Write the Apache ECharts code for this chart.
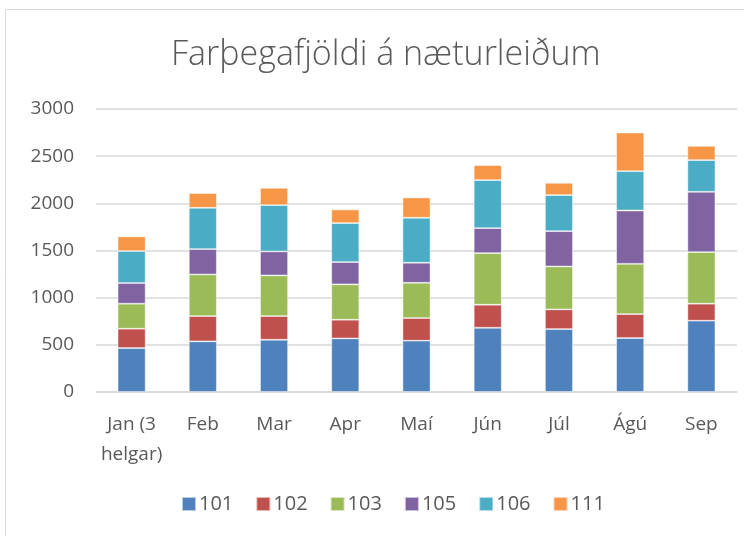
<!DOCTYPE html>
<html><head><meta charset="utf-8">
<script src="https://cdn.jsdelivr.net/npm/echarts@6/dist/echarts.min.js"></script>
<style>html,body{margin:0;padding:0;background:#fff}#c{width:744px;height:536px}</style>
</head><body><div id="c"></div>
<script>
var categories = ['Jan (3\nhelgar)', 'Feb', 'Mar', 'Apr', 'Maí', 'Jún', 'Júl', 'Ágú', 'Sep'];
var s101 = [466, 537, 554, 568, 544, 681, 667, 572, 756];
var s102 = [205, 268, 251, 198, 240, 244, 209, 254, 180];
var s103 = [265, 441, 431, 375, 374, 547, 455, 533, 547];
var s105 = [219, 269, 254, 236, 212, 265, 374, 565, 639];
var s106 = [339, 438, 491, 413, 477, 509, 382, 417, 336];
var s111 = [155, 155, 183, 145, 215, 159, 130, 410, 151];
var seriesNames = ['101', '102', '103', '105', '106', '111'];
var colors = ['#4F81BD', '#C0504D', '#9BBB59', '#8064A2', '#4BACC6', '#F79646'];
var data = [s101, s102, s103, s105, s106, s111];

var font = 'Open Sans';
var chart = echarts.init(document.getElementById('c'));
chart.setOption({
  animation: false,
  graphic: [{type: 'rect', shape: {x: 5.5, y: 9.5, width: 760, height: 560}, style: {fill: 'none', stroke: '#d9d9d9', lineWidth: 1}}],
  title: {text: 'Farþegafjöldi á næturleiðum', left: 166, top: 33,
    textStyle: {fontFamily: font, fontWeight: 300, fontSize: 34, color: '#595959'}},
  legend: {bottom: 17, left: 176, itemWidth: 14, itemHeight: 14, itemGap: 22,
    icon: 'rect', data: seriesNames,
    textStyle: {fontFamily: font, fontSize: 20, color: '#595959', padding: [0, 0, 0, -2]}},
  grid: {left: 96, right: 7, top: 109, bottom: 144, containLabel: false},
  xAxis: {type: 'category', data: categories,
    axisLine: {lineStyle: {color: '#d9d9d9', width: 1.5}}, axisTick: {show: false},
    axisLabel: {fontFamily: font, fontSize: 19, color: '#595959', margin: 18, lineHeight: 30, interval: 0}},
  yAxis: {type: 'value', min: 0, max: 3000, interval: 500,
    axisLine: {show: false}, axisTick: {show: false},
    splitLine: {lineStyle: {color: '#d9d9d9', width: 1.5}},
    axisLabel: {fontFamily: font, fontSize: 19, color: '#595959', margin: 22,
      formatter: function (v) { return String(v); }}},
  series: seriesNames.map(function (n, i) {
    return {name: n, type: 'bar', stack: 'a', barWidth: 28, data: data[i],
      itemStyle: {color: colors[i], borderColor: 'rgba(255,255,255,0.6)', borderWidth: 0.8}};
  })
});
</script></body></html>
